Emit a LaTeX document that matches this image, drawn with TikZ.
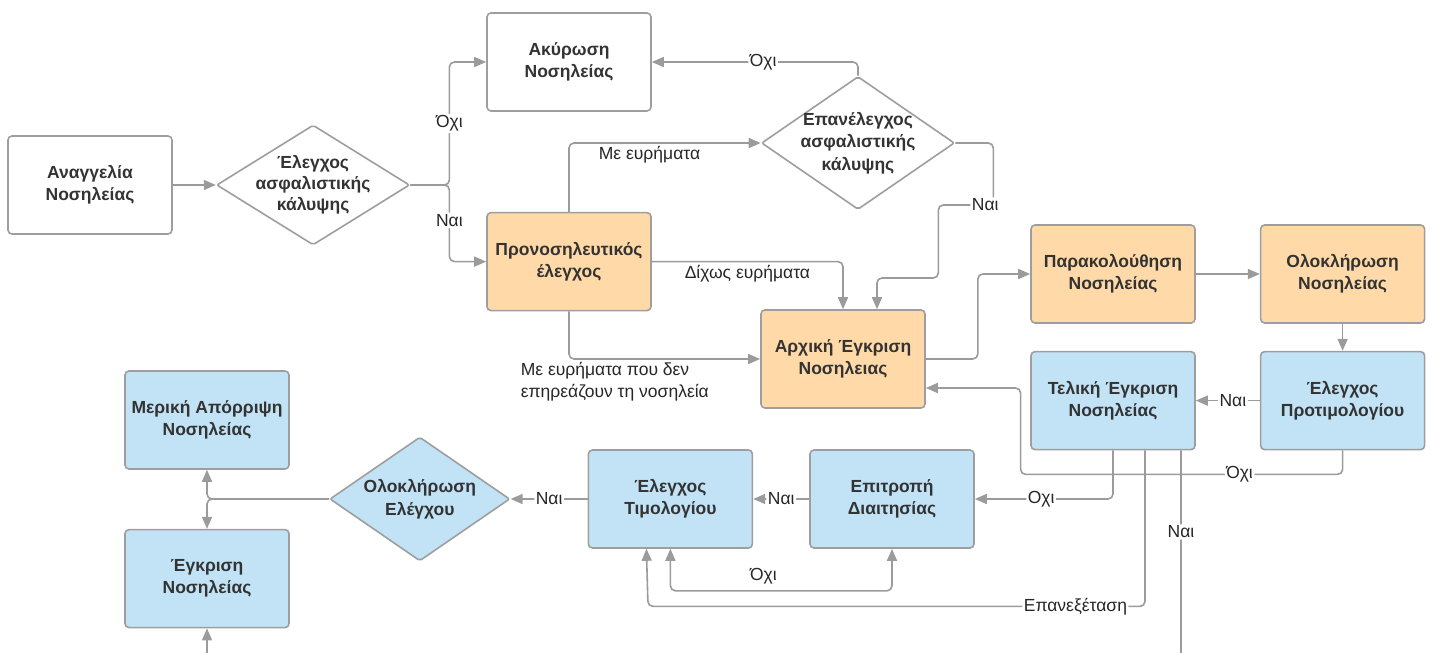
\documentclass[tikz,border=0pt]{standalone}
\usepackage{fontspec}
\setmainfont{Liberation Sans}
\usetikzlibrary{arrows.meta,positioning,shapes.geometric}
\definecolor{linegray}{RGB}{155,155,155}
\definecolor{bordergray}{RGB}{158,158,158}
\definecolor{darktext}{RGB}{51,51,51}
\definecolor{pastelorange}{RGB}{255,218,168}
\definecolor{pastelsky}{RGB}{193,227,245}
\tikzset{
  proceso/.style={
    rounded corners=4pt,
    draw=bordergray,
    line width=1.6pt,
    fill=white,
    align=center,
    minimum width=164pt,
    minimum height=98pt,
    inner sep=2pt,
    text=darktext,
    font=\fontsize{17.5}{22}\selectfont\bfseries
  },
  decision/.style={
    diamond,
    rounded corners=2pt,
    draw=bordergray,
    line width=1.6pt,
    fill=white,
    align=center,
    inner sep=-5pt,
    aspect=1.45,
    text=darktext,
    font=\fontsize{17.5}{22.5}\selectfont\bfseries
  },
  flecha/.style={
    -{Triangle[length=12pt,width=10pt]},
    line width=1.6pt,
    draw=linegray,
    rounded corners=5pt
  },
  etiqueta/.style={
    fill=white,
    inner sep=1.5pt,
    text=black!85,
    font=\fontsize{17.5}{22}\selectfont
  },
  nota/.style={
    inner sep=1pt,
    text=black!85,
    align=left,
    font=\fontsize{17.5}{22}\selectfont
  }
}
\begin{document}
\begin{tikzpicture}[x=1pt, y=-1pt]
\useasboundingbox (0,0) rectangle (1435,653);
\clip (0,0) rectangle (1435,653);
% first row
\node[proceso] (anaggelia) at (90,185) {Αναγγελία\\Νοσηλείας};
\node[decision, aspect=1.61, minimum width=193pt, minimum height=120pt, font=\fontsize{17.5}{21}\selectfont\bfseries, right=43pt of anaggelia] (elegxos) {Έλεγχος\\ασφαλιστικής\\κάλυψης};
\node[proceso] (akyrosi) at (569,62) {Ακύρωση\\Νοσηλείας};
\node[proceso, fill=pastelorange, below=100pt of akyrosi] (pronosil) {Προνοσηλευτικός\\έλεγχος};
\node[decision, minimum width=193pt, minimum height=133pt] (epanelegxos) at (858,143) {Επανέλεγχος\\ασφαλιστικής\\κάλυψης};
\node[proceso, fill=pastelorange] (arxiki) at (843,359) {Αρχική Έγκριση\\Νοσηλειας};
\node[proceso, fill=pastelorange] (parakol) at (1113,274) {Παρακολούθηση\\Νοσηλείας};
\node[proceso, fill=pastelorange, right=64pt of parakol] (oloklirosi) {Ολοκλήρωση\\Νοσηλείας};
% second row
\node[proceso, fill=pastelsky, below=27pt of oloklirosi] (protimol) {Έλεγχος\\Προτιμολογίου};
\node[proceso, fill=pastelsky, left=64pt of protimol] (teliki) {Τελική Έγκριση\\Νοσηλείας};
\node[proceso, fill=pastelsky] (epitropi) at (892,499) {Επιτροπή\\Διαιτησίας};
\node[proceso, fill=pastelsky, left=56pt of epitropi] (timologio) {Έλεγχος\\Τιμολογίου};
\node[decision, fill=pastelsky, minimum width=180pt, minimum height=124pt, left=77pt of timologio] (telos) {Ολοκλήρωση\\Ελέγχου};
\node[proceso, fill=pastelsky] (meriki) at (207,420) {Μερική Απόρριψη\\Νοσηλείας};
\node[proceso, fill=pastelsky, below=59pt of meriki] (egkrisi) {Έγκριση\\Νοσηλείας};
% connectors
\draw[flecha] (anaggelia) -- (elegxos);
\draw[flecha] (elegxos.east) -- ++(39,0) |- node[etiqueta, pos=.25] {Όχι} (akyrosi);
\draw[flecha] (elegxos.east) -- ++(39,0) |- node[etiqueta, pos=.23] {Ναι} (pronosil);
\draw[flecha] (pronosil.north) |- node[nota, below=2pt, pos=.71] {Με ευρήματα} (epanelegxos);
\draw[flecha] (epanelegxos.north) |- node[etiqueta, pos=.73] {Όχι} (akyrosi);
\draw[flecha] (epanelegxos.east) -- ++(38,0) -- ++(0,62) node[etiqueta, xshift=-8pt] {Ναι}
  -- ++(-55,0) -- ++(0,73) -| ([xshift=34pt]arxiki.north);
\draw[flecha] (pronosil.east) -| node[nota, below=2pt, pos=.25] {Δίχως ευρήματα} (arxiki);
\draw[flecha] (pronosil.south) |- node[nota, anchor=north west, pos=.5, xshift=-50pt, yshift=-2pt] {Με ευρήματα που δεν\\επηρεάζουν τη νοσηλεία} (arxiki);
\draw[flecha] (arxiki.east) -- ++(52,0) |- (parakol);
\draw[flecha] (parakol) -- (oloklirosi);
\draw[flecha] (oloklirosi) -- (protimol);
\draw[flecha] (protimol) -- node[etiqueta, pos=.42] {Ναι} (teliki);
\draw[flecha] (protimol.south) -- ++(0,24) -- node[etiqueta, pos=.32] {Όχι} ++(-322,0) |- ([yshift=-29pt]arxiki.east);
\draw[flecha] (teliki.south) |- node[etiqueta, pos=.76] {Οχι} (epitropi);
\draw[flecha] ([xshift=32pt]teliki.south) |- node[etiqueta, pos=.57] {Επανεξέταση} ++(-497,156) -- ([xshift=-24pt]timologio.south);
\draw[flecha] ([xshift=68pt]teliki.south) -- node[etiqueta, pos=.34] {Ναι} ++(0,240) -| (egkrisi);
\draw[flecha] (epitropi) -- node[etiqueta] {Ναι} (timologio);
\draw[flecha] (timologio) -- node[etiqueta] {Ναι} (telos);
\draw[flecha, {Triangle[length=12pt,width=10pt]}-{Triangle[length=12pt,width=10pt]}] (timologio.south) -- ++(0,42) -| node[nota, above=5pt, pos=.21] {Όχι} (epitropi.south);
\draw[flecha] (telos.west) -| (meriki);
\draw[flecha] (telos.west) -| (egkrisi);
\end{tikzpicture}
\end{document}
